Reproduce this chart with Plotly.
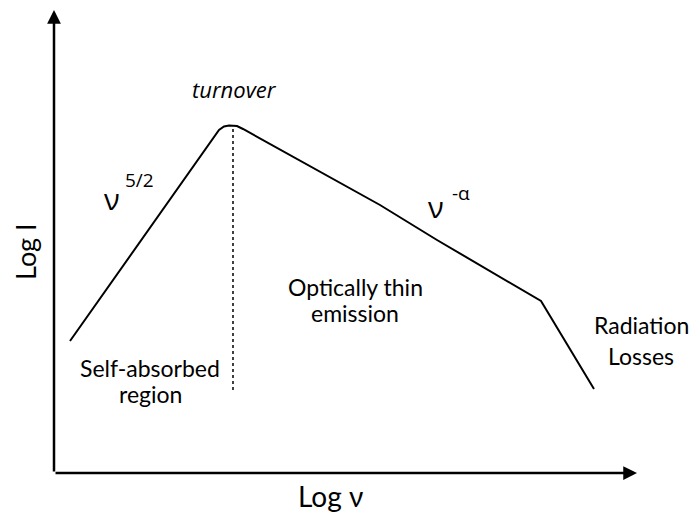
import plotly.graph_objects as go

# spectrum sketch, arbitrary units (x = log nu, y = log I)
log_nu = [70, 219, 224, 229, 237, 243, 380, 437, 541, 594]
log_i = [171, 382, 385.5, 386.5, 386, 383, 307, 272, 211, 123]

turnover_nu = 233
turnover_top = 386
turnover_bottom = 122

FONT = "Lato"

fig = go.Figure()

fig.add_trace(go.Scatter(
    x=log_nu, y=log_i,
    mode="lines",
    line=dict(color="black", width=2),
    hoverinfo="skip",
    showlegend=False,
))

# dotted turnover line
fig.add_shape(type="line", x0=turnover_nu, x1=turnover_nu,
              y0=turnover_bottom, y1=turnover_top,
              line=dict(color="black", width=1.5, dash="dot"))

# axes with arrows
ox, oy = 54, 39
for tip in [(637, oy), (ox, 502)]:
    fig.add_annotation(x=tip[0], y=tip[1], ax=ox, ay=oy,
                       xref="x", yref="y", axref="x", ayref="y",
                       text="", showarrow=True, arrowhead=2,
                       arrowsize=1.1, arrowwidth=2.5, arrowcolor="black")


def label(x, y, text, size=23, italic=False, family=FONT, angle=0):
    fig.add_annotation(x=x, y=y, text=text, showarrow=False,
                       xref="x", yref="y", textangle=angle,
                       font=dict(family=family, size=size, color="black",
                                 style="italic" if italic else "normal"))


label(234, 512 - 89, "turnover", size=22, italic=True, family="Open Sans")
label(112, 512 - 198, "ν", size=29, family="Open Sans")
label(139, 512 - 180, "5/2", size=19, family="Open Sans")
label(436, 512 - 206, "ν", size=29, family="Open Sans")
label(461, 512 - 193, "-α", size=19, family="Open Sans")
label(355, 512 - 287, "Optically thin", size=23)
label(355, 512 - 313, "emission", size=23)
label(150, 512 - 368, "Self-absorbed", size=23)
label(150, 512 - 394, "region", size=23)
label(641, 512 - 325, "Radiation", size=23)
label(641, 512 - 356, "Losses", size=23)
label(330, 512 - 496, "Log ν", size=28)
label(25, 512 - 252, "Log I", size=27, angle=-90)

# the page body keeps an 8px margin, so the figure is sized to the remaining
# window and the ranges are chosen so data units match window pixels
fig.update_layout(
    width=689, height=504,
    margin=dict(l=0, r=0, t=0, b=0),
    plot_bgcolor="white", paper_bgcolor="white",
    xaxis=dict(range=[8, 697], visible=False, fixedrange=True),
    yaxis=dict(range=[0, 504], visible=False, fixedrange=True),
)

fig.write_html("out.html")
